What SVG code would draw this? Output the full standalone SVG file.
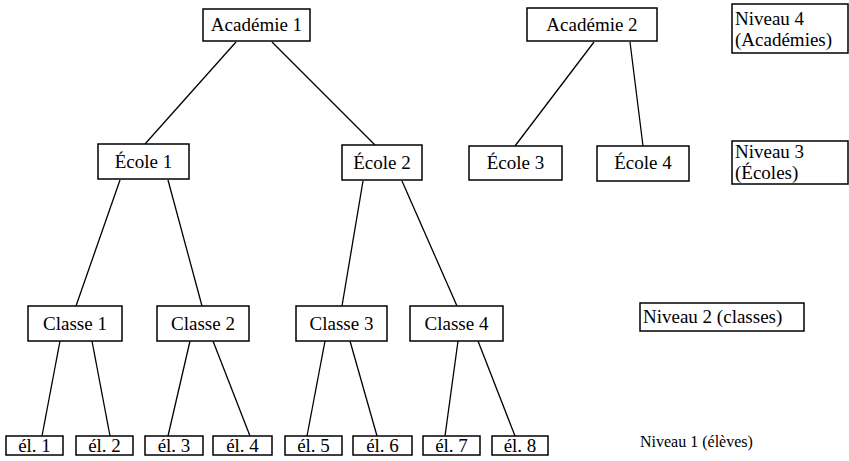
<svg xmlns="http://www.w3.org/2000/svg" width="849" height="461" viewBox="0 0 849 461">
<style>
rect{fill:#fff;stroke:#000;stroke-width:1.5}
text{font-family:'Times New Roman','Liberation Serif','DejaVu Serif','Noto Serif',serif;font-size:19px;fill:#000}
.c{text-anchor:middle}
#connectors line{stroke:#000;stroke-width:1.3}
</style>
<rect x="0" y="0" width="849" height="461" style="stroke:none;fill:#fff"/>
<g id="connectors">
<line x1="236" y1="42" x2="145" y2="144"/>
<line x1="272" y1="42" x2="375" y2="145"/>
<line x1="594" y1="42" x2="515" y2="146"/>
<line x1="630" y1="42" x2="643" y2="146"/>
<line x1="120" y1="180" x2="76" y2="306"/>
<line x1="168" y1="180" x2="202" y2="306"/>
<line x1="363" y1="181" x2="342" y2="306"/>
<line x1="402" y1="181" x2="457" y2="306"/>
<line x1="60" y1="341" x2="42" y2="436"/>
<line x1="92" y1="341" x2="110" y2="436"/>
<line x1="190" y1="341" x2="168" y2="436"/>
<line x1="213" y1="341" x2="250" y2="436"/>
<line x1="325" y1="341" x2="307" y2="436"/>
<line x1="350" y1="341" x2="377" y2="436"/>
<line x1="458" y1="341" x2="445" y2="436"/>
<line x1="478" y1="341" x2="515" y2="436"/>
</g>
<g id="academie1"><rect x="203" y="9" width="107" height="32"/><text class="c" x="256.5" y="31">Académie 1</text></g>
<g id="academie2"><rect x="527" y="8" width="130" height="33"/><text class="c" x="592" y="31">Académie 2</text></g>
<g id="niveau4"><rect x="732" y="4" width="116" height="49"/><text x="735" y="25">Niveau 4</text><text x="735" y="46">(Académies)</text></g>
<g id="ecole1"><rect x="98" y="144" width="91" height="35"/><text class="c" x="143.5" y="168">École 1</text></g>
<g id="ecole2"><rect x="342" y="145" width="80" height="35"/><text class="c" x="382" y="169">École 2</text></g>
<g id="ecole3"><rect x="469" y="146" width="93" height="34"/><text class="c" x="515.5" y="169">École 3</text></g>
<g id="ecole4"><rect x="597" y="146" width="92" height="35"/><text class="c" x="643" y="169">École 4</text></g>
<g id="niveau3"><rect x="732" y="141" width="116" height="43"/><text x="735" y="158">Niveau 3</text><text x="735" y="179">(Écoles)</text></g>
<g id="classe1"><rect x="28" y="306" width="94" height="35"/><text class="c" x="75" y="330">Classe 1</text></g>
<g id="classe2"><rect x="157" y="306" width="92" height="35"/><text class="c" x="203" y="330">Classe 2</text></g>
<g id="classe3"><rect x="296" y="306" width="91" height="35"/><text class="c" x="341.5" y="330">Classe 3</text></g>
<g id="classe4"><rect x="410" y="306" width="93" height="35"/><text class="c" x="456.5" y="330">Classe 4</text></g>
<g id="niveau2"><rect x="640" y="303" width="164" height="28"/><text x="643" y="323">Niveau 2 (classes)</text></g>
<g id="el1"><rect x="6" y="436" width="57" height="19"/><text class="c" x="34.5" y="452">él. 1</text></g>
<g id="el2"><rect x="76" y="436" width="57" height="19"/><text class="c" x="104.5" y="452">él. 2</text></g>
<g id="el3"><rect x="145" y="436" width="58" height="19"/><text class="c" x="174" y="452">él. 3</text></g>
<g id="el4"><rect x="213" y="436" width="59" height="19"/><text class="c" x="242.5" y="452">él. 4</text></g>
<g id="el5"><rect x="285" y="436" width="57" height="19"/><text class="c" x="313.5" y="452">él. 5</text></g>
<g id="el6"><rect x="353" y="436" width="59" height="19"/><text class="c" x="382.5" y="452">él. 6</text></g>
<g id="el7"><rect x="423" y="436" width="57" height="19"/><text class="c" x="451.5" y="452">él. 7</text></g>
<g id="el8"><rect x="492" y="436" width="56" height="19"/><text class="c" x="520" y="452">él. 8</text></g>
<g id="niveau1"><text x="640" y="447" style="font-size:16px">Niveau 1 (élèves)</text></g>
</svg>
